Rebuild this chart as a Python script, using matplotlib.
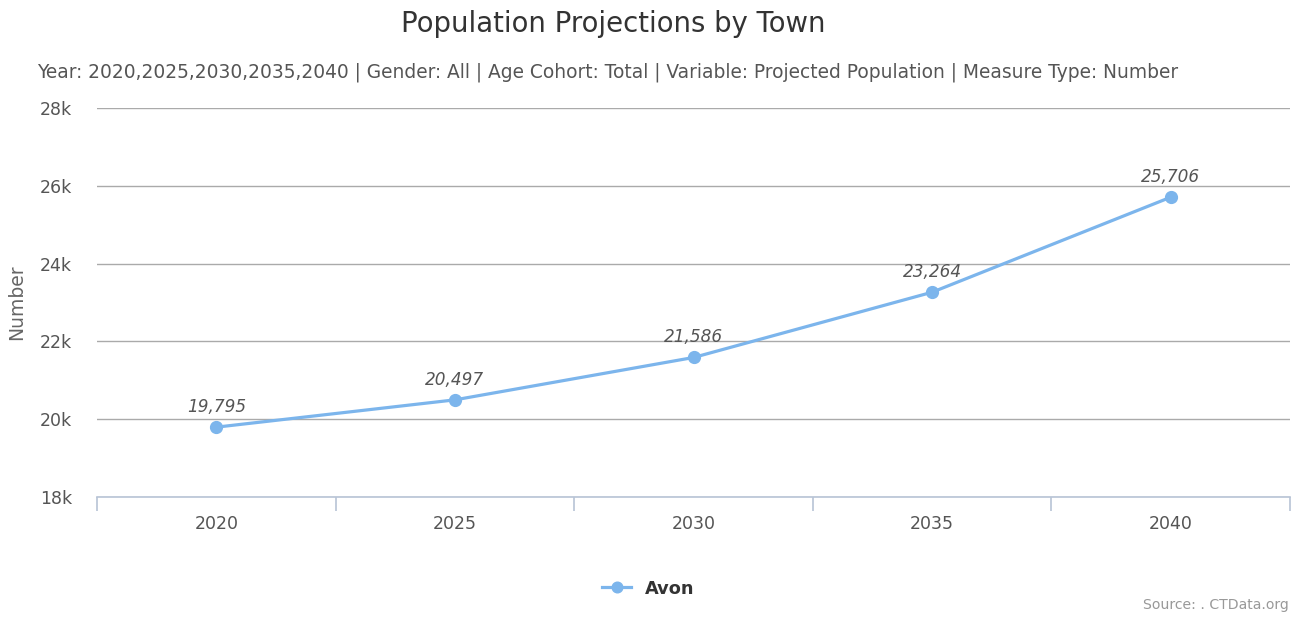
import matplotlib.pyplot as plt
from matplotlib.ticker import FuncFormatter

# chart data
years = ["2020", "2025", "2030", "2035", "2040"]
population = [19795, 20497, 21586, 23264, 25706]
town = "Avon"

line_color = "#7cb5ec"
text_color = "#555555"

fig = plt.figure(figsize=(12.97, 6.21), dpi=100)
ax = fig.add_axes([0.0748, 0.1997, 0.9198, 0.6264])

x = list(range(len(years)))
ax.plot(x, population, color=line_color, linewidth=2.3, marker="o",
        markersize=8.5, label=town, zorder=3)

# value labels above each point
for xi, val in zip(x, population):
    ax.annotate(f"{val:,}", (xi, val), xytext=(0, 8), textcoords="offset points",
                ha="center", va="bottom", fontsize=12.2, style="italic",
                color="#555555", zorder=4)

ax.set_xlim(-0.5, len(years) - 0.5)
ax.set_ylim(18000, 28000)
ax.set_yticks(range(18000, 28001, 2000))
ax.yaxis.set_major_formatter(FuncFormatter(lambda v, p: f"{int(v / 1000)}k"))
ax.set_xticks(x)
ax.set_xticklabels(years)
ax.set_xticks([i - 0.5 for i in range(len(years) + 1)], minor=True)

ax.grid(axis="y", color="#aaaaaa", linewidth=1)
ax.set_axisbelow(True)
for side in ["top", "right", "left"]:
    ax.spines[side].set_visible(False)
ax.spines["bottom"].set_color("#b8c4d6")
ax.spines["bottom"].set_linewidth(1.2)

ax.tick_params(axis="y", length=0, pad=18, labelsize=12.5, labelcolor=text_color)
ax.tick_params(axis="x", which="major", length=0, pad=13, labelsize=12.5,
               labelcolor=text_color)
ax.tick_params(axis="x", which="minor", length=10, color="#b8c4d6", width=1.2)

ax.set_ylabel("Number", fontsize=13.5, color="#666666", labelpad=10)

fig.text(0.4726, 0.961, "Population Projections by Town", ha="center", va="center",
         fontsize=19.8, color="#333333")
fig.text(0.0285, 0.884,
         "Year: 2020,2025,2030,2035,2040 | Gender: All | Age Cohort: Total | "
         "Variable: Projected Population | Measure Type: Number",
         ha="left", va="center", fontsize=13.4, color=text_color)

fig.legend(loc="center", bbox_to_anchor=(0.5, 0.052), frameon=False,
           prop={"weight": "bold", "size": 12.8}, labelcolor="#333333",
           handlelength=1.6, markerscale=0.9)

fig.text(0.994, 0.014, "Source: . CTData.org", ha="right", va="bottom",
         fontsize=10.1, color="#999999")

fig.savefig("out.png", dpi=100)
